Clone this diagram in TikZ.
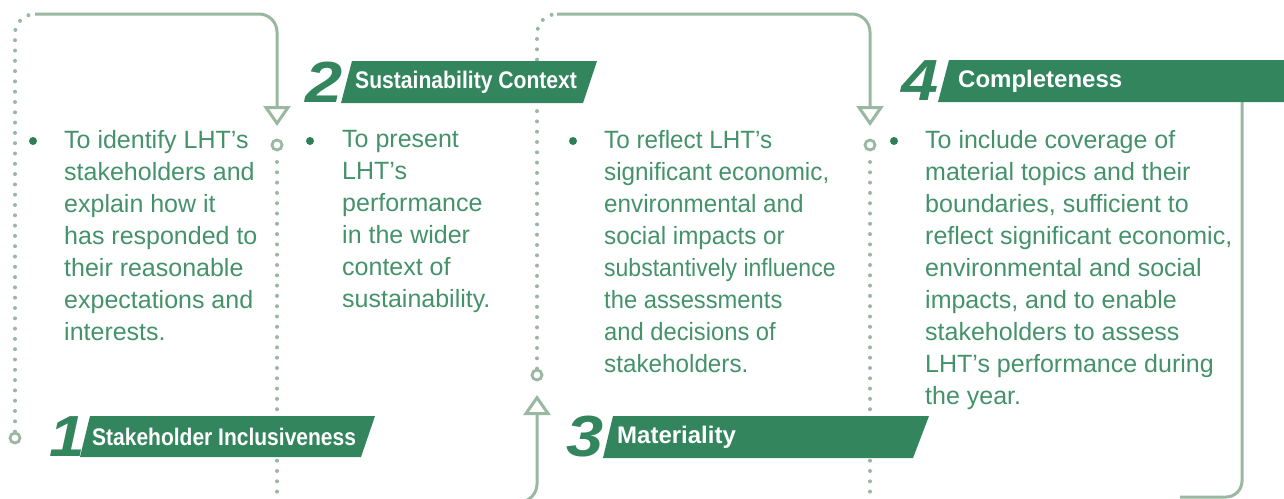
\documentclass[tikz,border=0pt]{standalone}
\usepackage{fontspec}
\usepackage{graphicx}
\setmainfont{Liberation Sans}
\usetikzlibrary{arrows.meta}
\definecolor{banner}{HTML}{32855C}
\definecolor{sage}{HTML}{9AB8A1}
\definecolor{txt}{HTML}{44926A}
\definecolor{bul}{HTML}{2F7F56}
\tikzset{
  sageline/.style={draw=sage, line width=3pt},
  dotline/.style={draw=sage, line width=4pt, line cap=round, dash pattern=on 0pt off 10.3pt},
  ring/.style={circle, draw=sage, line width=2.8pt, fill=white, minimum size=10pt, inner sep=0pt},
  opentip/.style={-{Triangle[open, length=20pt, width=27pt]}},
  bannerbox/.style={fill=banner},
  bannertext/.style={text=white, font=\bfseries\fontsize{24}{24}\selectfont, anchor=west, inner sep=0pt},
  bodytext/.style={text=txt, font=\fontsize{25}{32}\selectfont, anchor=north west, inner sep=0pt, align=left},
  bulletdot/.style={circle, fill=bul, minimum size=8pt, inner sep=0pt},
  numstyle/.style={text=banner, font=\bfseries\itshape\fontsize{58}{58}\selectfont, inner sep=0pt},
}
\newcommand\narrow[2]{\scalebox{#1}[1]{#2}}
\begin{document}
\begin{tikzpicture}[x=1pt,y=-1pt]
\path[use as bounding box] (0,0) rectangle (1284,498);
\clip (0,0) rectangle (1284,498);

% ---- path A (left) ----
\node[ring] (ra) at (15,438) {};
\coordinate (a1) at (15,14);
\coordinate (a2) at (35,14);
\coordinate (a3) at (277,14);
\coordinate (a4) at (277,126);
\draw[dotline, rounded corners=20] (ra.north) -- (a1) -- (a2);
\draw[sageline, rounded corners=18, opentip] (a2) -- (a3) -- (a4);
\node[ring] (rb) at (277,145) {};
\coordinate (b1) at (277,505);
\draw[dotline] ([yshift=-17pt]rb.center) -- (b1);

% ---- path B (middle) ----
\node[ring] (rc) at (537,375) {};
\coordinate (c1) at (537,14);
\coordinate (c2) at (557,14);
\coordinate (c3) at (870,14);
\coordinate (c4) at (870,126);
\draw[dotline, rounded corners=20] (rc.north) -- (c1) -- (c2);
\draw[sageline, rounded corners=18, opentip] (c2) -- (c3) -- (c4);
\node[ring] (rd) at (870,145) {};
\coordinate (d1) at (870,505);
\draw[dotline] ([yshift=-17pt]rd.center) -- (d1);

% ---- path C (bottom arrow up) ----
\coordinate (e0) at (460,502);
\coordinate (e1) at (537,502);
\coordinate (e2) at (537,395);
\draw[sageline, rounded corners=18, opentip] (e0) -- (e1) -- (e2);

% ---- path D (right) ----
\node[circle, draw=sage, line width=3pt, fill=white, minimum size=18pt, inner sep=0pt] (rf) at (1242,81) {};
\node[circle, fill=sage, minimum size=8pt, inner sep=0pt] (rfi) at (rf.center) {};
\coordinate (f1) at (1242,497);
\coordinate (f2) at (1180,497);
\draw[sageline, rounded corners=16] (rf.south) -- (f1) -- (f2);

% ---- banners ----
\fill[bannerbox] (90,416) -- (375,416) -- (361,457) -- (80,457) -- cycle;
\fill[bannerbox] (352,61) -- (597,61) -- (583,103) -- (341,103) -- cycle;
\fill[bannerbox] (613,416) -- (929,416) -- (913,458) -- (603,458) -- cycle;
\fill[bannerbox] (949,60) -- (1298,60) -- (1284,102) -- (938,102) -- cycle;

\node[numstyle] (n1) at (67,437) {\scalebox{1.1}[1]{1}};
\node[numstyle] (n2) at (324,82) {\scalebox{1.15}[1]{2}};
\node[numstyle] (n3) at (585,437) {\scalebox{1.15}[1]{3}};
\node[numstyle] (n4) at (920,81) {\scalebox{1.15}[1]{4}};

\node[bannertext] (h1) at (92,437) {\narrow{0.875}{Stakeholder Inclusiveness}};
\node[bannertext] (h2) at (355,82) {\narrow{0.88}{Sustainability Context}};
\node[bannertext] (h3) at (617,437) {Materiality};
\node[bannertext] (h4) at (958,81) {Completeness};

% ---- bullets and text ----
\node[bulletdot] (p1) at (33,141) {};
\node[bulletdot] (p2) at (310,141) {};
\node[bulletdot] (p3) at (573,141) {};
\node[bulletdot] (p4) at (894,141) {};

\node[bodytext] (t1) at (64,130) {To identify LHT’s\\stakeholders and\\explain how it\\has responded to\\their reasonable\\expectations and\\interests.};
\node[bodytext] (t2) at (342,130) {To present\\LHT’s\\performance\\in the wider\\context of\\sustainability.};
\node[bodytext] (t3) at (604,130) {\narrow{0.97}{To reflect LHT’s}\\\narrow{0.97}{significant economic,}\\\narrow{0.97}{environmental and}\\\narrow{0.97}{social impacts or}\\\narrow{0.92}{substantively influence}\\\narrow{0.95}{the assessments}\\\narrow{0.95}{and decisions of}\\\narrow{0.97}{stakeholders.}};
\node[bodytext] (t4) at (925,130) {To include coverage of\\material topics and their\\boundaries, sufficient to\\reflect significant economic,\\environmental and social\\impacts, and to enable\\stakeholders to assess\\LHT’s performance during\\the year.};
\end{tikzpicture}
\end{document}
